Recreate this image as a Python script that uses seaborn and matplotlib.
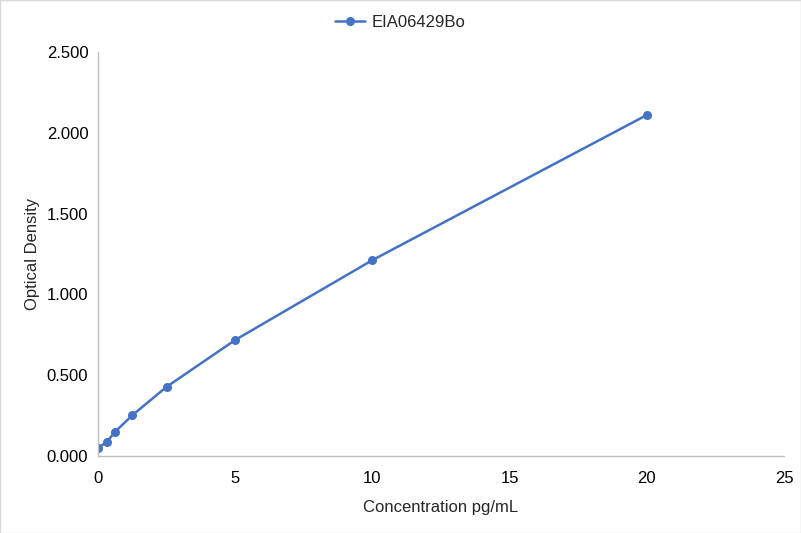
import numpy as np
import pandas as pd
import matplotlib
matplotlib.use('Agg')
import matplotlib.pyplot as plt
import seaborn as sns
from matplotlib.ticker import FormatStrFormatter

# standard curve readings
concentration = [0, 0.3125, 0.625, 1.25, 2.5, 5, 10, 20]
optical_density = [0.050, 0.086, 0.150, 0.252, 0.428, 0.718, 1.212, 2.110]
series_name = 'EIA06429Bo'

df = pd.DataFrame({'conc': concentration, 'od': optical_density})

sns.set_style('white')
plt.rcParams['font.family'] = ['Liberation Sans', 'DejaVu Sans']

fig = plt.figure(figsize=(8.01, 5.33), dpi=100)
ax = fig.add_axes([98 / 801, 1 - 456 / 533, (784 - 98) / 801, (456 - 52) / 533])

sns.lineplot(data=df, x='conc', y='od', ax=ax, color='#4472C4', linewidth=1.8,
             marker='o', markersize=6.5, markeredgewidth=0, label=series_name)

ax.set_xlim(0, 25)
ax.set_ylim(0, 2.5)
ax.set_xticks([0, 5, 10, 15, 20, 25])
ax.set_yticks(np.arange(0, 2.51, 0.5))
ax.yaxis.set_major_formatter(FormatStrFormatter('%.3f'))
ax.tick_params(axis='both', labelsize=12, colors='#404040', length=0)
ax.tick_params(axis='x', pad=11)
ax.tick_params(axis='y', pad=7)
for lab in ax.get_xticklabels() + ax.get_yticklabels():
    lab.set_color('#000000')

for side in ['top', 'right']:
    ax.spines[side].set_visible(False)
for side in ['left', 'bottom']:
    ax.spines[side].set_color('#BFBFBF')
    ax.spines[side].set_linewidth(1)

ax.set_xlabel('Concentration pg/mL', fontsize=12, labelpad=10)
ax.set_ylabel('Optical Density', fontsize=12, labelpad=5)

ax.legend(loc='center', bbox_to_anchor=(0.5, 1 - 22 / 533),
          bbox_transform=fig.transFigure, frameon=False,
          fontsize=12, handlelength=1.8, handletextpad=0.4)

fig.patches.append(plt.Rectangle((0, 0), 1, 1, transform=fig.transFigure,
                                 fill=False, edgecolor='#D9D9D9', linewidth=1))

fig.savefig('out.png', dpi=100)
